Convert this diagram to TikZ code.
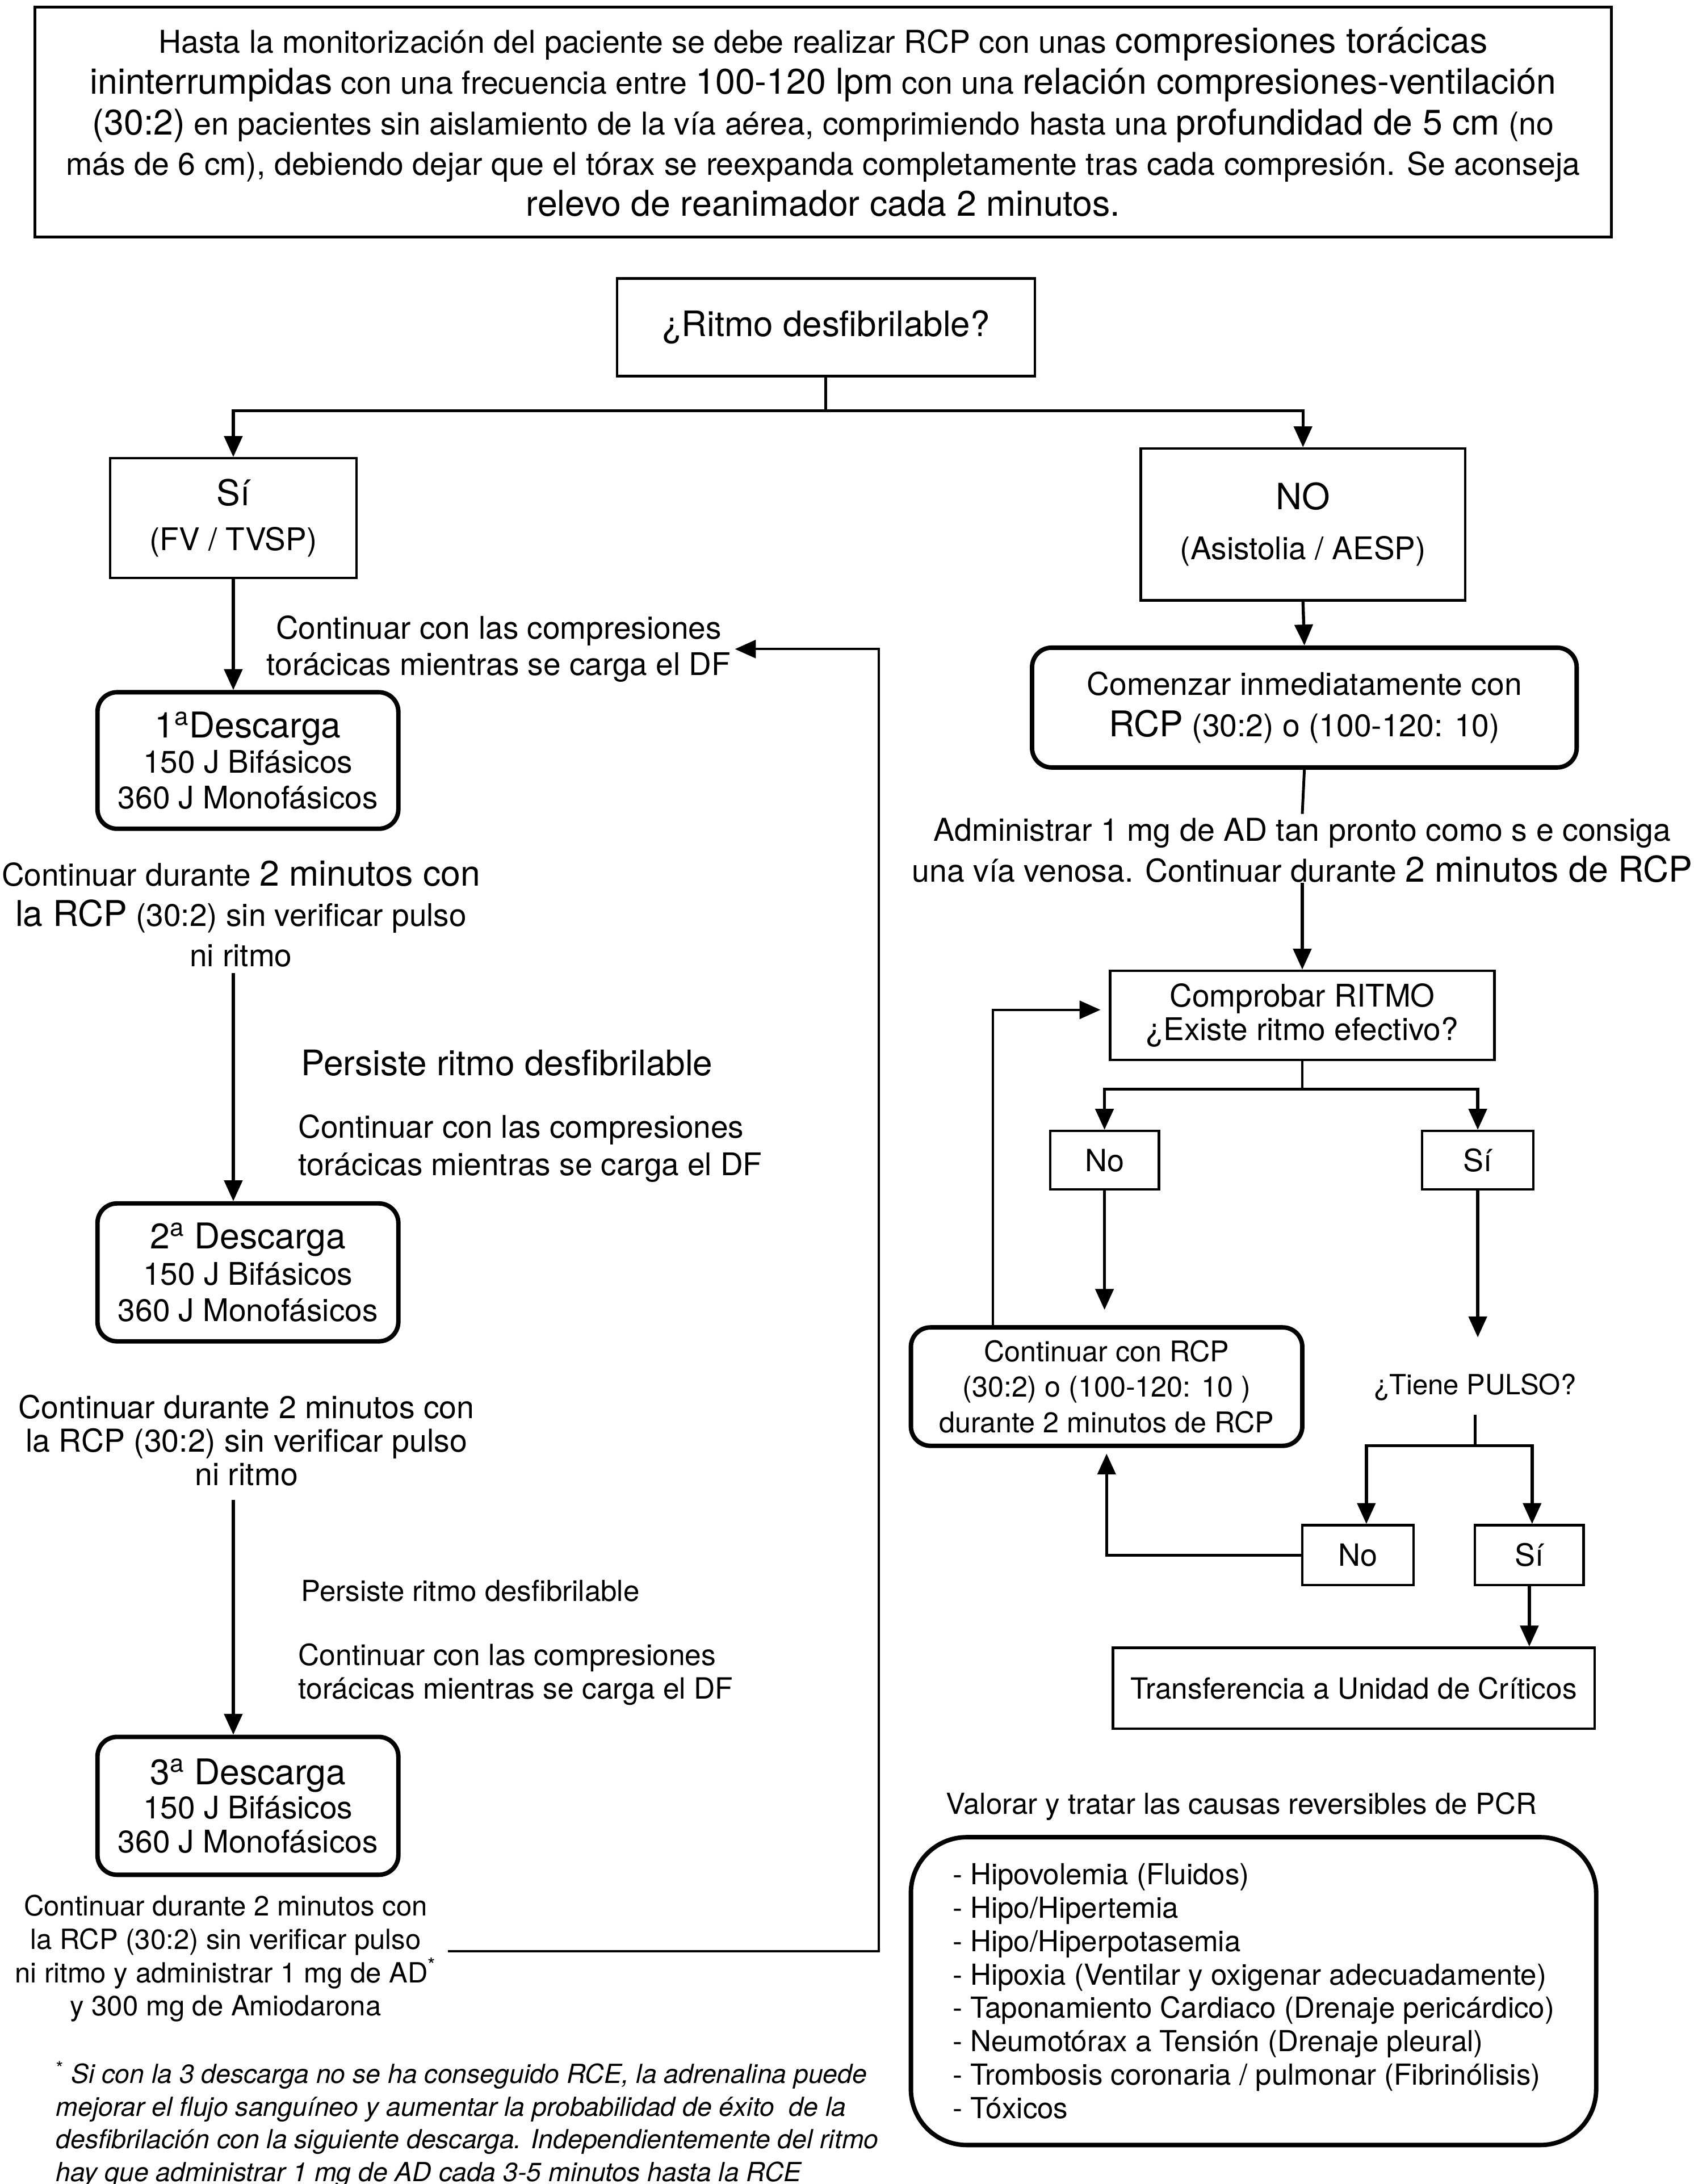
\documentclass[tikz,border=0pt]{standalone}
\usepackage{fontspec}
\setmainfont{TeX Gyre Heros}
\usetikzlibrary{arrows.meta,calc}
\def\fs#1#2{\fontsize{#1}{#2}\selectfont}
\newcommand\lgtxt{\fontsize{25.5}{\baselineskip}\selectfont}
\tikzset{
  box/.style={draw, line width=1.8pt, inner sep=0pt, align=center},
  rbox/.style={draw, line width=3.2pt, rounded corners=14pt, inner sep=0pt, align=center},
  txt/.style={inner sep=0pt, align=center},
  ln/.style={line width=2pt},
  arr/.style={line width=2.2pt, -{Triangle[length=15pt,width=13pt]}},
  arrl/.style={line width=1.6pt, -{Triangle[length=15pt,width=13pt]}},
}

\begin{document}
\begin{tikzpicture}[x=1pt,y=-1pt]
  %%%%% START %%%%%
  \useasboundingbox (0,0) rectangle (1216,1568);

  \node[box, line width=2pt, minimum width=1132pt, minimum height=165pt, font=\fs{22.6}{29.3}] (intro) at (591,87.5)
    {Hasta la monitorización del paciente se debe realizar RCP con unas {\lgtxt compresiones torácicas}\\
     {\lgtxt ininterrumpidas} con una frecuencia entre {\lgtxt 100-120 lpm} con una {\lgtxt relación compresiones-ventilación}\\
     {\lgtxt (30:2)} en pacientes sin aislamiento de la vía aérea, comprimiendo hasta una {\lgtxt profundidad de 5 cm} (no\\
     más de 6 cm), debiendo dejar que el tórax se reexpanda completamente tras cada compresión. Se aconseja\\
     {\lgtxt relevo de reanimador cada 2 minutos.}};

  \node[box, minimum width=300pt, minimum height=70pt, font=\fs{25.2}{30}] (ritmo) at (593,235) {¿Ritmo desfibrilable?};

  % left branch
  \node[box, minimum width=177pt, minimum height=86pt, font=\fs{22.4}{32}] (si) at (167.5,372) {{\lgtxt Sí}\\(FV / TVSP)};
  \node[txt, font=\fs{22.4}{26}] (cc1) at (358,466) {Continuar con las compresiones\\torácicas mientras se carga el DF};
  \node[rbox, minimum width=216pt, minimum height=98pt, font=\fs{22.4}{25.5}] (d1) at (178,546)
    {{\lgtxt 1\textsuperscript{a}Descarga}\\150 J Bifásicos\\360 J Monofásicos};
  \node[txt, font=\fs{22.4}{29}] (cd1) at (173,656)
    {Continuar durante {\lgtxt 2 minutos con}\\{\lgtxt la RCP} (30:2) sin verificar pulso\\ni ritmo};
  \node[txt, anchor=west, font=\fs{25.3}{30}] (pers1) at (216,763) {Persiste ritmo desfibrilable};
  \node[txt, anchor=west, align=left, font=\fs{22.4}{27}] (cc2) at (214,824.5) {Continuar con las compresiones\\torácicas mientras se carga el DF};
  \node[rbox, minimum width=216pt, minimum height=99pt, font=\fs{22.4}{26}] (d2) at (178,913.5)
    {{\lgtxt 2\textsuperscript{a} Descarga}\\150 J Bifásicos\\360 J Monofásicos};
  \node[txt, font=\fs{22.6}{24}] (cd2) at (177,1034) {Continuar durante 2 minutos con\\la RCP (30:2) sin verificar pulso\\ni ritmo};
  \node[txt, anchor=west, font=\fs{20.8}{24}] (pers2) at (216,1142) {Persiste ritmo desfibrilable};
  \node[txt, anchor=west, align=left, font=\fs{21}{24}] (cc3) at (214,1202) {Continuar con las compresiones\\torácicas mientras se carga el DF};
  \node[rbox, minimum width=216pt, minimum height=99pt, font=\fs{22.4}{24.5}] (d3) at (178,1296.5)
    {{\lgtxt 3\textsuperscript{a} Descarga}\\150 J Bifásicos\\360 J Monofásicos};
  \node[txt, font=\fs{20}{24}] (cd3) at (162,1406)
    {Continuar durante 2 minutos con\\la RCP (30:2) sin verificar pulso\\ni ritmo y administrar 1 mg de AD\textsuperscript{*}\\y 300 mg de Amiodarona};
  \node[txt, anchor=west, align=left, font=\fs{18.9}{23.5}\itshape] (foot) at (40,1525)
    {{\upshape\textsuperscript{*}} Si con la 3 descarga no se ha conseguido RCE, la adrenalina puede\\
     mejorar el flujo sanguíneo y aumentar la probabilidad de éxito\ \ de la\\
     desfibrilación con la siguiente descarga. Independientemente del ritmo\\
     hay que administrar 1 mg de AD cada 3-5 minutos hasta la RCE};

  % right branch
  \node[box, minimum width=233pt, minimum height=109pt, font=\fs{22.4}{36}] (no) at (935.5,376.5) {{\fontsize{26}{36}\selectfont NO}\\(Asistolia / AESP)};
  \node[rbox, minimum width=391pt, minimum height=86pt, font=\fs{22.5}{30}] (com) at (936.5,508)
    {Comenzar inmediatamente con\\{\lgtxt RCP} (30:2) o (100-120: 10)};
  \node[txt, font=\fs{22.6}{29}] (adm) at (935,610.5)
    {Administrar 1 mg de AD tan pronto como s e consiga\\una vía venosa. Continuar durante {\lgtxt 2 minutos de RCP}};
  \node[box, minimum width=276pt, minimum height=64pt, font=\fs{22.4}{24}] (comp) at (935,729) {Comprobar RITMO\\¿Existe ritmo efectivo?};
  \node[box, minimum width=78pt, minimum height=42pt, font=\fs{22}{26}] (noA) at (793,833) {No};
  \node[box, minimum width=80pt, minimum height=42pt, font=\fs{22}{26}] (siA) at (1061,833) {Sí};
  \node[rbox, minimum width=281pt, minimum height=85pt, font=\fs{20.5}{25.5}] (rcp) at (794.5,995.5)
    {Continuar con RCP\\(30:2) o (100-120: 10 )\\durante 2 minutos de RCP};
  \node[txt, font=\fs{20}{24}] (pulse) at (1059,996) {¿Tiene PULSO?};
  \node[box, minimum width=80pt, minimum height=43pt, font=\fs{22}{26}] (noB) at (975,1116.5) {No};
  \node[box, minimum width=78pt, minimum height=43pt, font=\fs{22}{26}] (siB) at (1098,1116.5) {Sí};
  \node[box, minimum width=346pt, minimum height=58pt, font=\fs{20.9}{24}] (trans) at (972,1212) {Transferencia a Unidad de Críticos};
  \node[txt, anchor=west, font=\fs{20.8}{24}] (valorar) at (679,1297) {Valorar y tratar las causas reversibles de PCR};
  \node[rbox, rounded corners=40pt, align=left, minimum width=492pt, minimum height=221pt, font=\fs{20.8}{24}] (causes) at (900,1429.5)
    {- Hipovolemia (Fluidos)\\
     - Hipo/Hipertemia\\
     - Hipo/Hiperpotasemia\\
     - Hipoxia (Ventilar y oxigenar adecuadamente)\\
     - Taponamiento Cardiaco (Drenaje pericárdico)\\
     - Neumotórax a Tensión (Drenaje pleural)\\
     - Trombosis coronaria / pulmonar (Fibrinólisis)\\
     - Tóxicos};

  % connectors
  \coordinate (rsplit) at (593,295);
  \draw[ln] (ritmo.south) -- (rsplit);
  \draw[arr] (rsplit) -| (si.north);
  \draw[arr] (rsplit) -| (no.north);

  \draw[arr] (si.south) -- (si.south |- d1.north);
  \draw[arr] ([yshift=-4pt]cd1.south -| si.south) -- (si.south |- d2.north);
  \draw[arr] ([yshift=-10pt]cd2.south -| si.south) -- (si.south |- d3.north);

  \coordinate (loopB) at (631,1401);
  \draw[arrl] ([xshift=8pt]cd3.east |- loopB) -- (loopB) |- ([xshift=3pt]cc1.east);

  \draw[arr] (no.south) -- (com.north);
  \draw[ln] (com.south) -- ([yshift=3pt]adm.north);
  \draw[arr] (adm.south) -- (comp.north);

  \coordinate (csplit) at (935,782);
  \draw[ln] (comp.south) -- (csplit);
  \draw[arr] (csplit) -| (noA.north);
  \draw[arr] (csplit) -| (siA.north);
  \draw[arr, shorten >=11pt] (noA.south) -- (noA.south |- rcp.north);

  \coordinate (loopC) at (713,725);
  \draw[arrl, shorten >=6pt] (rcp.north -| loopC) -- (loopC) -- (comp.west |- loopC);

  \draw[arr, shorten >=26pt] (siA.south) -- (siA.south |- pulse.north);
  \coordinate (psplit) at (1059,1038);
  \draw[ln] ([yshift=-10pt]pulse.south) -- (psplit);
  \draw[arr] (psplit) -| ([xshift=6pt]noB.north);
  \draw[arr] (psplit) -| ([xshift=2pt]siB.north);
  \draw[arr, shorten >=4pt] (noB.west) -| (rcp.south);
  \draw[arr] (siB.south) -- (siB.south |- trans.north);
  %%%%% END %%%%%
\end{tikzpicture}
\end{document}
